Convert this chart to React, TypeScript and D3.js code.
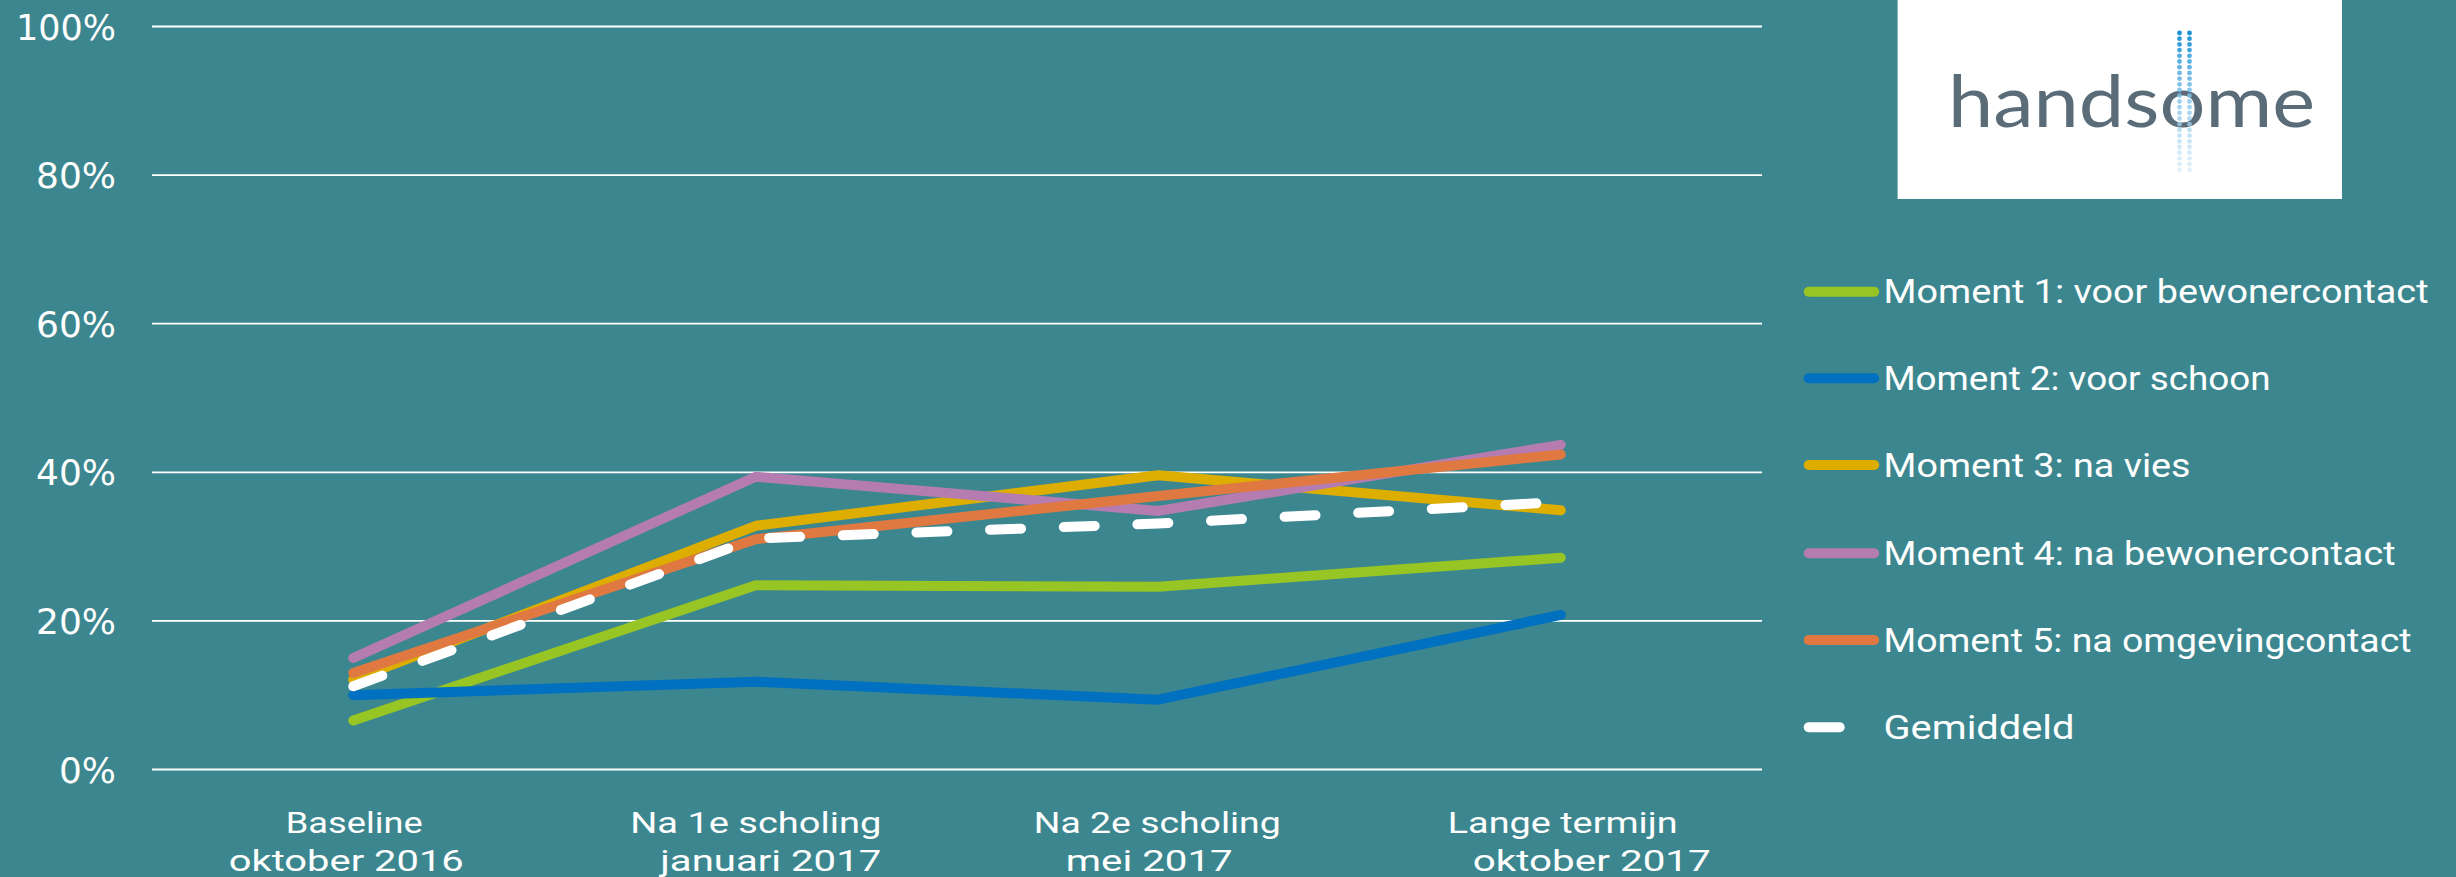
import React from "react";
import * as d3 from "d3";

const categoriesLine1 = ["Baseline", "Na 1e scholing", "Na 2e scholing", "Lange termijn"];
const categoriesLine2 = ["oktober 2016", "januari 2017", "mei 2017", "oktober 2017"];
const categoryKeys = ["c0", "c1", "c2", "c3"];

const seriesNames = [
  "Moment 1: voor bewonercontact",
  "Moment 2: voor schoon",
  "Moment 3: na vies",
  "Moment 4: na bewonercontact",
  "Moment 5: na omgevingcontact",
  "Gemiddeld",
];
const moment1 = [0.066, 0.248, 0.246, 0.285];
const moment2 = [0.1, 0.118, 0.094, 0.208];
const moment3 = [0.121, 0.328, 0.396, 0.349];
const moment4 = [0.15, 0.394, 0.348, 0.437];
const moment5 = [0.13, 0.31, 0.368, 0.424];
const gemiddeld = [0.112, 0.311, 0.331, 0.36];
const seriesValues = [moment1, moment2, moment3, moment4, moment5, gemiddeld];
const seriesColors = ["#97C523", "#0070C0", "#DDAE00", "#B57CB1", "#E07841", "#FFFFFF"];

const yTicks = [0, 0.2, 0.4, 0.6, 0.8, 1];
const yTickLabels = ["0%", "20%", "40%", "60%", "80%", "100%"];

const W = 2456;
const H = 877;
const BG = "#3C878F";

export default function App() {
  const x = d3.scaleBand<string>().domain(categoryKeys).range([152, 1762]).padding(0);
  const y = d3.scaleLinear().domain([0, 1]).range([769.5, 26.5]);
  const cx = (i: number) => (x(categoryKeys[i]) as number) + x.bandwidth() / 2;
  const line = d3
    .line<number>()
    .x((_, i) => cx(i))
    .y((d) => y(d));

  const sw = 10;
  const dash = "31 42.7";
  const ytlWidths = [57, 80, 80, 80, 80, 100];
  const l1W = [137, 251, 247, 230];
  const l2W = [235, 221, 167, 238];
  const l1Off = [1, 0, -1, 2];
  const l2Off = [-7, 15, -9, 31];
  const legW = [545, 387, 307, 512, 528, 191];
  const legY = [291.7, 378.3, 465, 553.3, 640, 727.3];

  // logo dots (decoration)
  const dots: { x: number; y: number; c: string; o: number }[] = [];
  const nRows = 25;
  for (let r = 0; r < nRows; r++) {
    for (let c = 0; c < 2; c++) {
      const t = r / (nRows - 1);
      const col = d3.interpolateRgb("#1A8FD6", "#D3EAF6")(Math.pow(t, 0.8));
      dots.push({ x: 2179.5 + c * 10, y: 33 + r * 5.7, c: col, o: 1 - t * 0.35 });
    }
  }

  const labelFont = "Roboto, 'Liberation Sans', sans-serif";

  return (
    <svg
      width={W}
      height={H}
      style={{ position: "absolute", left: 0, top: 0, display: "block" }}
      xmlns="http://www.w3.org/2000/svg"
    >
      <rect x={0} y={0} width={W} height={H} fill={BG} />

      {/* gridlines */}
      {yTicks.map((t) => (
        <line key={"g" + t} x1={152} x2={1762} y1={y(t)} y2={y(t)} stroke="#FFFFFF" strokeWidth={1.8} />
      ))}

      {/* y labels */}
      {yTicks.map((t, i) => (
        <text
          key={"yl" + t}
          x={116}
          y={y(t) + 13}
          textAnchor="end"
          fill="#FFFFFF"
          fontFamily="'DejaVu Sans', sans-serif"
          fontSize={36}
          textLength={ytlWidths[i]}
          lengthAdjust="spacingAndGlyphs"
        >
          {yTickLabels[i]}
        </text>
      ))}

      {/* category labels */}
      {categoryKeys.map((k, i) => (
        <g key={k}>
          <text
            x={cx(i) + l1Off[i]}
            y={833}
            textAnchor="middle"
            fill="#FFFFFF"
            fontFamily={labelFont}
            fontSize={30}
            textLength={l1W[i]}
            lengthAdjust="spacingAndGlyphs"
          >
            {categoriesLine1[i]}
          </text>
          <text
            x={cx(i) + l2Off[i]}
            y={871}
            textAnchor="middle"
            fill="#FFFFFF"
            fontFamily={labelFont}
            fontSize={30}
            textLength={l2W[i]}
            lengthAdjust="spacingAndGlyphs"
          >
            {categoriesLine2[i]}
          </text>
        </g>
      ))}

      {/* series */}
      {seriesValues.map((vals, si) => (
        <path
          key={"s" + si}
          d={line(vals) || ""}
          fill="none"
          stroke={seriesColors[si]}
          strokeWidth={sw}
          strokeLinecap="round"
          strokeLinejoin="round"
          strokeDasharray={si === 5 ? dash : undefined}
        />
      ))}

      {/* legend */}
      {seriesNames.map((name, i) => (
        <g key={"leg" + i}>
          <line
            x1={1808.7}
            x2={1874.2}
            y1={legY[i]}
            y2={legY[i]}
            stroke={seriesColors[i]}
            strokeWidth={sw}
            strokeLinecap="round"
            strokeDasharray={i === 5 ? dash : undefined}
          />
          <text
            x={1883.5}
            y={legY[i] + 11.5}
            fill="#FFFFFF"
            fontFamily={labelFont}
            fontSize={33}
            textLength={legW[i]}
            lengthAdjust="spacingAndGlyphs"
          >
            {name}
          </text>
        </g>
      ))}

      {/* logo */}
      <rect x={1897.6} y={0} width={444.4} height={199} fill="#FFFFFF" />
      <text
        x={1948}
        y={126.7}
        fill="#5B6C79"
        fontFamily="Lato, 'Open Sans', sans-serif"
        fontSize={72}
        textLength={367}
        lengthAdjust="spacingAndGlyphs"
      >
        handsome
      </text>
      {dots.map((d, i) => (
        <circle key={"d" + i} cx={d.x} cy={d.y} r={2.4} fill={d.c} opacity={d.o} />
      ))}
    </svg>
  );
}
